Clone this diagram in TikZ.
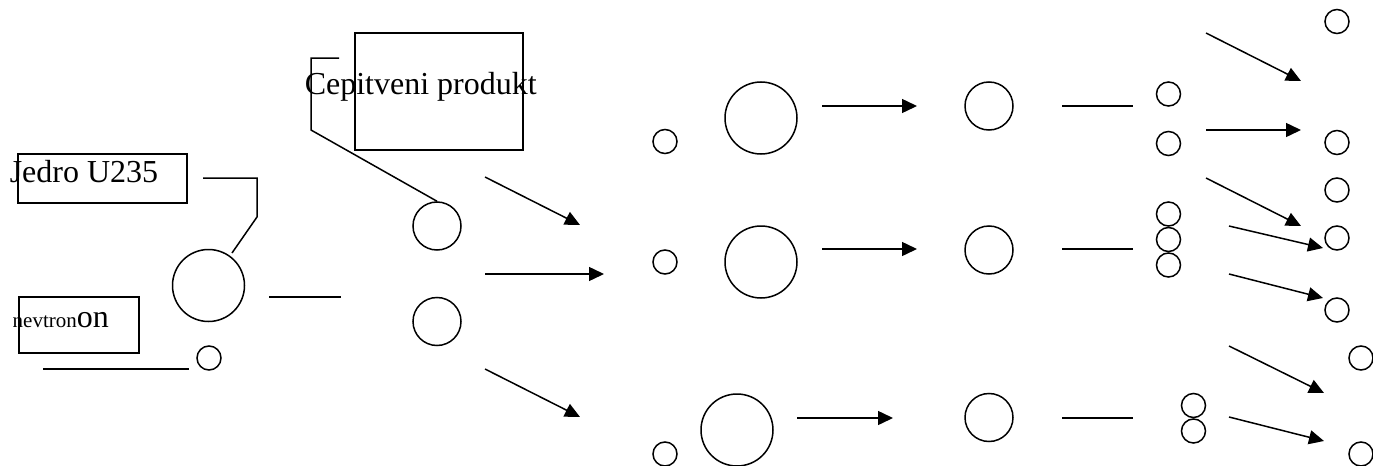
\documentclass[tikz,border=0pt]{standalone}
\usepackage{fontspec}
\setmainfont{Liberation Serif}
\usetikzlibrary{arrows.meta, positioning}

\begin{document}
\begin{tikzpicture}[
    x=0.5pt, y=-0.5pt,
    line width=0.75pt,
    heavy/.style={draw, circle, inner sep=0pt, minimum size=36pt},
    fragment/.style={draw, circle, inner sep=0pt, minimum size=24pt},
    neutron/.style={draw, circle, inner sep=0pt, minimum size=12pt},
    tag/.style={draw, rectangle, inner sep=0pt},
    caption/.style={inner sep=0pt, anchor=base west, font=\fontsize{16}{19}\selectfont},
    arrow/.style={-{Triangle[length=7.5pt, width=7pt]}}
]
\useasboundingbox (0,0) rectangle (1373,466);

% labels
\node[tag, minimum width=84.5pt, minimum height=24.5pt] (jedrobox) at (102.5,178.5) {};
\node[caption] (jedro) at (9,182) {Jedro U235};
\node[tag, minimum width=60pt, minimum height=28pt] (nevtronbox) at (79,325) {};
\node[caption] (nevtron) at (12,327) {{\fontsize{10.5}{12}\selectfont nevtron}on};
\node[tag, minimum width=84pt, minimum height=58.5pt] (produktbox) at (439,91.5) {};
\node[caption] (produkt) at (304,94) {Cepitveni produkt};

% first fission
\node[heavy] (u) at (208.5,285.5) {};
\node[neutron] (n) at (209,358) {};
\node[fragment] (fa) at (437,226) {};
\node[fragment] (fb) at (437,321.5) {};

% second generation
\node[neutron] (n1) at (665,141.5) {};
\node[heavy] (u1) at (761,118) {};
\node[fragment] (f1) at (989,106) {};
\node[neutron] (n2) at (665,262) {};
\node[heavy] (u2) at (761,262) {};
\node[fragment] (f2) at (989,250) {};
\node[neutron] (n3) at (665,454) {};
\node[heavy] (u3) at (737,430) {};
\node[fragment] (f3) at (989,417.5) {};

% released neutrons
\node[neutron] (p1) at (1168.5,94) {};
\node[neutron, below=0pt of p1, yshift=-12pt] (p2) {};
\node[neutron] (q1) at (1168.5,214) {};
\node[neutron, below=0pt of q1] (q2) {};
\node[neutron, below=0pt of q2] (q3) {};
\node[neutron] (s1) at (1193.5,405.5) {};
\node[neutron, below=0pt of s1] (s2) {};

\node[neutron] (r1) at (1337,21.5) {};
\node[neutron] (r2) at (1337,142.5) {};
\node[neutron] (r3) at (1337,190) {};
\node[neutron] (r4) at (1337,238) {};
\node[neutron] (r5) at (1337,310) {};
\node[neutron] (r6) at (1361,358) {};
\node[neutron] (r7) at (1361,454) {};

% free ends
\coordinate (j1) at (203,178);
\coordinate (j2) at (257,178);
\coordinate (j3) at (257,217);
\coordinate (j4) at (232,253);
\coordinate (c1) at (339,58);
\coordinate (c2) at (311,58);
\coordinate (c3) at (311,130);
\coordinate (e1) at (43,369);
\coordinate (e2) at (189,369);
\coordinate (l1) at (269,297);
\coordinate (l2) at (341,297);
\coordinate (a1) at (485,177);
\coordinate (b1) at (580,225);
\coordinate (a2) at (485,274);
\coordinate (b2) at (604,274);
\coordinate (a3) at (485,369);
\coordinate (b3) at (580,417);
\coordinate (g1) at (822,106);
\coordinate (h1) at (917,106);
\coordinate (g2) at (822,249);
\coordinate (h2) at (917,249);
\coordinate (g3) at (797,418);
\coordinate (h3) at (893,418);
\coordinate (k1) at (1062,106);
\coordinate (m1) at (1133,106);
\coordinate (k2) at (1062,249);
\coordinate (m2) at (1133,249);
\coordinate (k3) at (1062,418);
\coordinate (m3) at (1133,418);
\coordinate (t1) at (1206,33);
\coordinate (v1) at (1301,81);
\coordinate (t2) at (1206,130);
\coordinate (v2) at (1301,130);
\coordinate (t3) at (1206,178);
\coordinate (v3) at (1301,226);
\coordinate (t4) at (1229,226);
\coordinate (v4) at (1323,248);
\coordinate (t5) at (1229,274);
\coordinate (v5) at (1323,298);
\coordinate (t6) at (1229,346);
\coordinate (v6) at (1324,393);
\coordinate (t7) at (1229,417);
\coordinate (v7) at (1324,441);

\draw (j1) -- (j2) -- (j3) -- (j4);
\draw (c1) -- (c2) -- (c3) -- (fa.north);
\draw (e1) -- (e2);
\draw (l1) -- (l2);

\draw[arrow] (a1) -- (b1);
\draw[arrow] (a2) -- (b2);
\draw[arrow] (a3) -- (b3);

\draw[arrow] (g1) -- (h1);
\draw[arrow] (g2) -- (h2);
\draw[arrow] (g3) -- (h3);
\draw (k1) -- (m1);
\draw (k2) -- (m2);
\draw (k3) -- (m3);

\draw[arrow] (t1) -- (v1);
\draw[arrow] (t2) -- (v2);
\draw[arrow] (t3) -- (v3);
\draw[arrow] (t4) -- (v4);
\draw[arrow] (t5) -- (v5);
\draw[arrow] (t6) -- (v6);
\draw[arrow] (t7) -- (v7);

\end{tikzpicture}
\end{document}
